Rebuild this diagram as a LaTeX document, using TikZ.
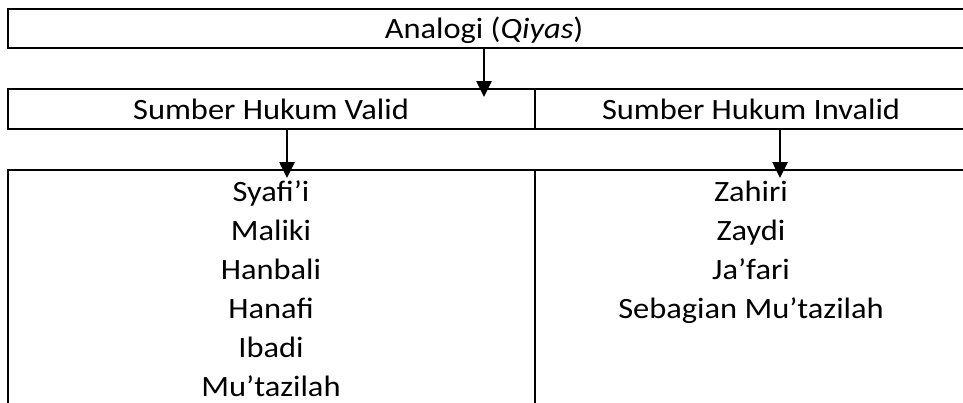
\documentclass[tikz,border=0pt]{standalone}
\usepackage{fontspec}
\setmainfont{Carlito}[FakeStretch=1.1]
\usetikzlibrary{arrows.meta}
\tikzset{
  frame/.style={line width=2.6pt, line join=miter},
  flow/.style={line width=2.6pt, -{Triangle[length=16pt,width=15pt]}},
  label/.style={inner sep=0pt, font=\fontsize{29.5}{39}\selectfont, anchor=base},
}
\begin{document}
\begin{tikzpicture}[x=1pt,y=-1pt]
  \useasboundingbox (0,0) rectangle (963,402);
  % boxes (open to the right and, for the last row, downwards)
  \draw[frame] (975,9) -- (8,9) -- (8,48) -- (975,48);
  \draw[frame] (975,89) -- (8,89) -- (8,129) -- (975,129);
  \draw[frame] (535,89) -- (535,129);
  \draw[frame] (8,420) -- (8,170) -- (975,170);
  \draw[frame] (535,170) -- (535,420);

  % headings
  \node[label] (qiyas) at (484,38) {Analogi (\textit{Qiyas})};
  \node[label] (valid) at (271,119) {Sumber Hukum Valid};
  \node[label] (invalid) at (751,119) {Sumber Hukum Invalid};

  % arrow anchors
  \coordinate (a0) at (484,48);
  \coordinate (a1) at (484,97);
  \coordinate (b0) at (287,129);
  \coordinate (b1) at (287,178);
  \coordinate (c0) at (780,129);
  \coordinate (c1) at (780,178);
  \draw[flow] (a0) -- (a1);
  \draw[flow] (b0) -- (b1);
  \draw[flow] (c0) -- (c1);

  % schools in each column
  \foreach \t [count=\k] in {Syafi’i, Maliki, Hanbali, Hanafi, Ibadi, Mu’tazilah}
    \node[label] (v\k) at (271,{201+39*(\k-1)}) {\t};
  \foreach \t [count=\k] in {Zahiri, Zaydi, Ja’fari, Sebagian Mu’tazilah}
    \node[label] (i\k) at (751,{201+39*(\k-1)}) {\t};
\end{tikzpicture}
\end{document}
